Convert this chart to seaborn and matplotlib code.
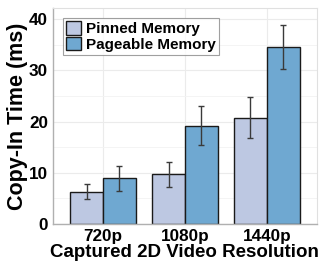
import matplotlib
matplotlib.use("Agg")
import matplotlib.pyplot as plt
import seaborn as sns
import pandas as pd
import numpy as np
from matplotlib.ticker import MultipleLocator

resolutions = ["720p", "1080p", "1440p"]
series = ["Pinned Memory", "Pageable Memory"]
pinned = [6.3, 9.7, 20.7]
pinned_err = [1.5, 2.4, 4.0]
pageable = [8.9, 19.2, 34.6]
pageable_err = [2.4, 3.8, 4.3]

df = pd.DataFrame({
    "Resolution": resolutions * 2,
    "Memory": [series[0]] * 3 + [series[1]] * 3,
    "Time": pinned + pageable,
})
errs = pinned_err + pageable_err

sns.set_theme(style="whitegrid")
plt.rcParams["font.family"] = ["Liberation Sans", "DejaVu Sans"]
plt.rcParams["font.weight"] = "bold"
plt.rcParams["text.color"] = "black"

fig = plt.figure(figsize=(3.21, 2.64), dpi=100)
ax = fig.add_axes([0.165, 0.152, 0.822, 0.818])

palette = {series[0]: "#BDC8E2", series[1]: "#6FA8D1"}
sns.barplot(data=df, x="Resolution", y="Time", hue="Memory", palette=palette,
            order=resolutions, hue_order=series, width=0.8, errorbar=None,
            edgecolor="#1a1a1a", linewidth=1.0, saturation=1, ax=ax, zorder=2)

bars = [p for p in ax.patches if p.get_height() > 0][:6]
for p, e in zip(bars, errs):
    cx = p.get_x() + p.get_width() / 2
    ax.errorbar(cx, p.get_height(), yerr=e, fmt="none", ecolor="#3a3a3a",
                elinewidth=1.0, capsize=2.2, capthick=1.0, zorder=3)

ax.set_ylim(0, 42.2)
ax.set_xlim(-0.61, 2.61)
ax.yaxis.set_major_locator(MultipleLocator(10))
ax.yaxis.set_minor_locator(MultipleLocator(5))
ax.grid(True, which="major", color="#ebebeb", linewidth=0.8)
ax.grid(True, which="minor", axis="y", color="#f3f3f3", linewidth=0.6)
ax.set_axisbelow(True)

for s in ["top", "right"]:
    ax.spines[s].set_color("#e0e0e0")
    ax.spines[s].set_linewidth(0.8)
for s in ["left", "bottom"]:
    ax.spines[s].set_color("#b0b0b0")
    ax.spines[s].set_linewidth(1.0)

ax.tick_params(axis="both", which="major", length=2.5, width=0.8, color="#b0b0b0", pad=1)
ax.tick_params(axis="both", which="minor", length=0)
ax.tick_params(axis="x", which="major", pad=1)
for lab in ax.get_yticklabels():
    lab.set_fontsize(12.3); lab.set_fontweight("bold"); lab.set_color("black")
for lab in ax.get_xticklabels():
    lab.set_fontsize(12.3); lab.set_fontweight("bold"); lab.set_color("black")

ax.set_ylabel("Copy-In Time (ms)", fontsize=15.5, fontweight="bold", color="black", labelpad=1)
ax.set_xlabel("Captured 2D Video Resolution", fontsize=13.5, fontweight="bold", color="black", labelpad=0)

leg = ax.legend(loc="upper left", bbox_to_anchor=(0.02, 0.975), fontsize=11,
                frameon=True, fancybox=False, edgecolor="#888888",
                handlelength=1.0, handleheight=1.0, handletextpad=0.3,
                borderpad=0.2, labelspacing=0.05, borderaxespad=0.3)
leg.get_frame().set_linewidth(0.8)
for t in leg.get_texts():
    t.set_fontweight("bold"); t.set_color("black")

fig.savefig("out.png", dpi=100)
